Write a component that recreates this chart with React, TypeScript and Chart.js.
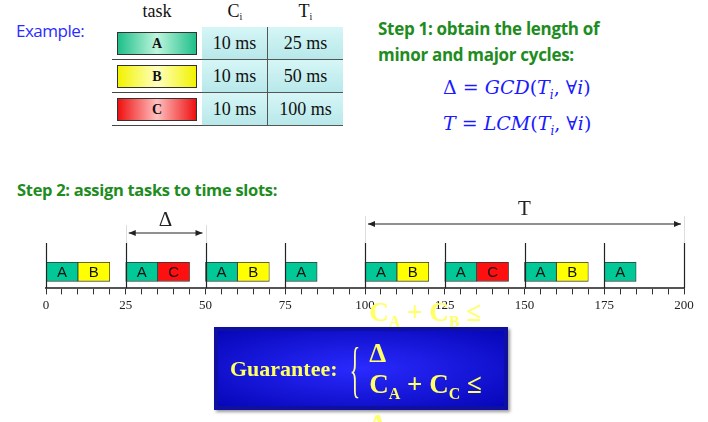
import React, { useEffect, useRef } from "react";
import { Chart, registerables } from "chart.js";

Chart.register(...registerables);

// schedule: slot start (ms) and task in that slot, every slot is 10 ms long
const slotStarts = [0, 10, 25, 35, 50, 60, 75, 100, 110, 125, 135, 150, 160, 175];
const slotTasks = ["A", "B", "A", "C", "A", "B", "A", "A", "B", "A", "C", "A", "B", "A"];
const slotLength = 10;
const taskColors: Record<string, string> = { A: "#00c896", B: "#ffff00", C: "#ff1010" };

const tableTasks = ["A", "B", "C"];
const tableC = ["10 ms", "10 ms", "10 ms"];
const tableT = ["25 ms", "50 ms", "100 ms"];
const taskGradients: Record<string, string> = {
  A: "linear-gradient(90deg,#1fbf8a,#bff5dd,#1fbf8a)",
  B: "linear-gradient(90deg,#f2f200,#ffffc0,#f2f200)",
  C: "linear-gradient(90deg,#ee1111,#ffc0c0,#ee1111)",
};

const overlay = {
  id: "overlay",
  afterDatasetsDraw(chart: any) {
    const { ctx, scales } = chart;
    const x = scales.x;
    const y = scales.y;
    ctx.save();
    // task letters
    ctx.font = "15px 'Liberation Sans', sans-serif";
    ctx.textAlign = "center";
    ctx.textBaseline = "middle";
    ctx.fillStyle = "#111";
    chart.data.datasets.forEach((ds: any, i: number) => {
      const bar = chart.getDatasetMeta(i).data[0];
      ctx.fillText(slotTasks[i], (x.getPixelForValue(ds.data[0].x[0]) + x.getPixelForValue(ds.data[0].x[1])) / 2, bar.y + 1);
    });
    // tall slot boundaries
    ctx.strokeStyle = "#222";
    ctx.lineWidth = 1.2;
    for (let v = 0; v <= 200; v += 25) {
      const px = Math.round(x.getPixelForValue(v)) + 0.5;
      ctx.beginPath();
      ctx.moveTo(px, y.top);
      ctx.lineTo(px, y.bottom);
      ctx.stroke();
    }
    // faint guide lines and arrows
    const arrow = (a: number, b: number, py: number, label: string, ly: number) => {
      const xa = x.getPixelForValue(a) + 3;
      const xb = x.getPixelForValue(b) - 3;
      ctx.strokeStyle = "#ddd";
      ctx.lineWidth = 1;
      [a, b].forEach((v) => {
        const px = Math.round(x.getPixelForValue(v)) + 0.5;
        ctx.beginPath();
        ctx.moveTo(px, py - 8);
        ctx.lineTo(px, y.top);
        ctx.stroke();
      });
      ctx.strokeStyle = "#222";
      ctx.fillStyle = "#222";
      ctx.lineWidth = 1.2;
      ctx.beginPath();
      ctx.moveTo(xa, py);
      ctx.lineTo(xb, py);
      ctx.stroke();
      [[xa, 1], [xb, -1]].forEach(([p, d]) => {
        ctx.beginPath();
        ctx.moveTo(p, py);
        ctx.lineTo(p + d * 7, py - 3);
        ctx.lineTo(p + d * 7, py + 3);
        ctx.closePath();
        ctx.fill();
      });
      ctx.font = "21px 'Liberation Serif', serif";
      ctx.fillText(label, (xa + xb) / 2, ly);
    };
    arrow(25, 50, 33, "Δ", 20);
    arrow(100, 200, 24, "T", 9);
    ctx.restore();
  },
};

function Timeline() {
  const canvasRef = useRef<HTMLCanvasElement | null>(null);
  const chartRef = useRef<Chart | null>(null);

  useEffect(() => {
    if (!canvasRef.current) return;
    if (chartRef.current) chartRef.current.destroy();
    chartRef.current = new Chart(canvasRef.current, {
      type: "bar",
      data: {
        datasets: slotStarts.map((s, i) => ({
          data: [{ x: [s, s + slotLength], y: 0.23 }],
          backgroundColor: taskColors[slotTasks[i]],
          borderColor: "#333",
          borderWidth: 0.8,
          borderSkipped: false,
          barThickness: 19,
          grouped: false,
        })),
      } as any,
      options: {
        indexAxis: "y",
        animation: false,
        responsive: false,
        layout: { padding: { left: 46, right: 24, top: 43, bottom: 4 } },
        plugins: { legend: { display: false }, tooltip: { enabled: false } },
        scales: {
          x: {
            type: "linear",
            min: 0,
            max: 200,
            afterBuildTicks: (scale: any) => {
              const t = [];
              for (let v = 0; v <= 200; v += 5) t.push({ value: v });
              scale.ticks = t;
            },
            grid: { drawOnChartArea: false, tickLength: 6, color: "#333" },
            border: { color: "#555", width: 2 },
            ticks: {
              autoSkip: false,
              maxRotation: 0,
              color: "#222",
              font: { family: "'Liberation Serif', serif", size: 13 },
              callback: (v: any) => (v % 25 === 0 ? String(v) : ""),
            },
          },
          y: { type: "linear", min: 0, max: 1, display: false },
        },
      } as any,
      plugins: [overlay],
    });
    return () => {
      if (chartRef.current) chartRef.current.destroy();
      chartRef.current = null;
    };
  }, []);

  return <canvas ref={canvasRef} width={708} height={120} style={{ position: "absolute", left: 0, top: 200 }} />;
}

const cell: React.CSSProperties = {
  position: "absolute",
  display: "flex",
  alignItems: "center",
  justifyContent: "center",
  fontFamily: "'Liberation Serif', serif",
  fontSize: 18,
  color: "#111",
};

export default function App() {
  const colX = [112, 202, 268, 343];
  const rowY = [27, 60, 93, 126];
  return (
    <div style={{ position: "absolute", left: 0, top: 0, width: 708, height: 422, background: "#fff", overflow: "hidden" }}>
      <div style={{ position: "absolute", left: 16, top: 19, color: "#2b2bff", fontFamily: "'Open Sans', sans-serif", fontSize: 17, letterSpacing: -0.5 }}>Example:</div>
      {["task", "C", "T"].map((h, i) => (
        <div key={h} style={{ ...cell, left: colX[i], top: 1, width: colX[i + 1] - colX[i], height: 24, alignItems: "flex-start" }}>
          <span>{h}</span>
          {i > 0 && <span style={{ fontSize: 10, marginTop: 10 }}>i</span>}
        </div>
      ))}
      <div style={{ position: "absolute", left: 112, top: 27, width: 231, height: 99, border: "1px solid #777", boxSizing: "border-box" }} />
      {tableTasks.map((t, r) => (
        <React.Fragment key={t}>
          <div style={{ position: "absolute", left: 112, top: rowY[r], width: 90, height: 33, borderBottom: "1px solid #444", boxSizing: "border-box", background: "#fff" }}>
            <div style={{ ...cell, left: 5, top: 5, width: 78, height: 21, border: "1px solid #333", background: taskGradients[t], fontWeight: "bold", fontSize: 14 }}>{t}</div>
          </div>
          <div style={{ ...cell, left: colX[1], top: rowY[r], width: 66, height: 33, background: "linear-gradient(180deg,#d6f6f6,#b8e8ea)", borderRight: "1px solid #555", borderBottom: "1px solid #555", boxSizing: "border-box" }}>{tableC[r]}</div>
          <div style={{ ...cell, left: colX[2], top: rowY[r], width: 75, height: 33, background: "linear-gradient(180deg,#d6f6f6,#b8e8ea)", borderBottom: "1px solid #555", boxSizing: "border-box" }}>{tableT[r]}</div>
        </React.Fragment>
      ))}
      <div style={{ position: "absolute", left: 378, top: 16, color: "#1e8c1e", fontFamily: "'Open Sans', sans-serif", fontWeight: "bold", fontSize: 17, lineHeight: "26px", letterSpacing: -0.3 }}>
        Step 1: obtain the length of<br />minor and major cycles:
      </div>
      <div style={{ position: "absolute", left: 443, top: 73, color: "#1a1aff", fontFamily: "'DejaVu Serif', serif", fontSize: 19, lineHeight: "28px", whiteSpace: "nowrap" }}>
        <div>Δ = <i>GCD</i>(<i>T<sub style={{ fontSize: 12 }}>i</sub></i>, ∀<i>i</i>)</div>
        <div><i>T</i> = <i>LCM</i>(<i>T<sub style={{ fontSize: 12 }}>i</sub></i>, ∀<i>i</i>)</div>
      </div>
      <div style={{ position: "absolute", left: 17, top: 178, color: "#1e8c1e", fontFamily: "'Open Sans', sans-serif", fontWeight: "bold", fontSize: 16.5, letterSpacing: -0.3 }}>Step 2: assign tasks to time slots:</div>
      <Timeline />
      <div style={{ position: "absolute", left: 214, top: 327, width: 294, height: 83, boxSizing: "border-box", border: "4px solid #1010a0", background: "radial-gradient(ellipse at center,#2a2aff,#0606b8)", boxShadow: "2px 2px 3px #999", display: "flex", alignItems: "center", fontFamily: "'Liberation Serif', serif", fontWeight: "bold", color: "#ffff66" }}>
        <span style={{ fontSize: 22, marginLeft: 12 }}>Guarantee:</span>
        <span style={{ fontSize: 62, fontWeight: "normal", color: "#ffff99", margin: "0 0 0 2px", transform: "scaleX(0.35)", lineHeight: "62px" }}>{"{"}</span>
        <div style={{ fontSize: 27, lineHeight: "31px" }}>
          <div>C<sub style={{ fontSize: 16 }}>A</sub> + C<sub style={{ fontSize: 16 }}>B</sub> ≤ Δ</div>
          <div>C<sub style={{ fontSize: 16 }}>A</sub> + C<sub style={{ fontSize: 16 }}>C</sub> ≤ Δ</div>
        </div>
      </div>
    </div>
  );
}
